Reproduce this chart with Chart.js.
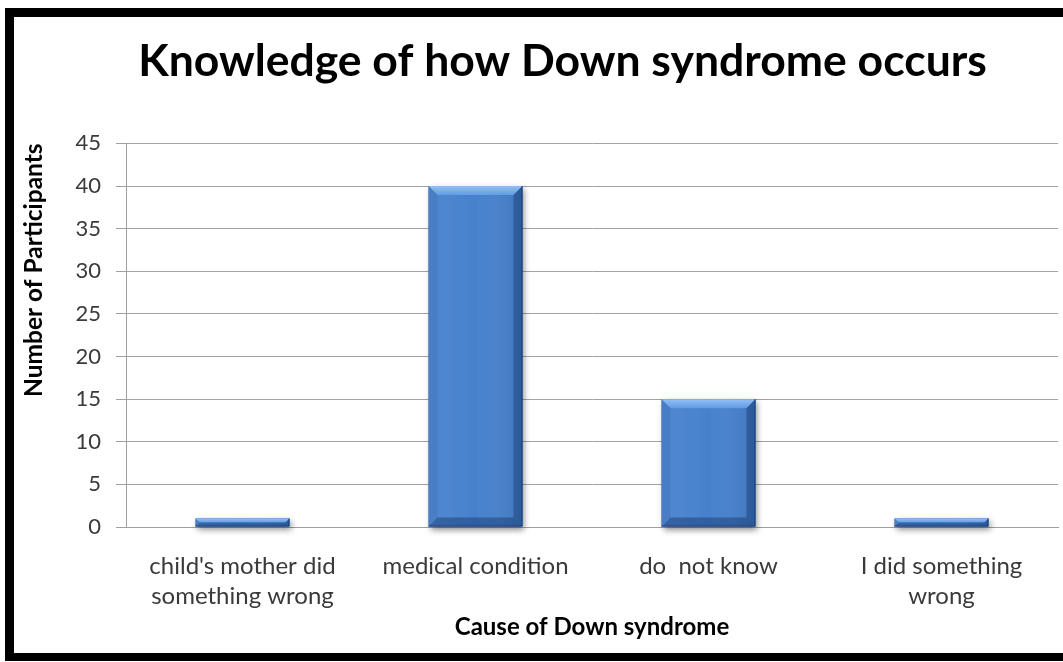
<!DOCTYPE html>
<html>
<head>
<meta charset="utf-8">
<script src="https://cdn.jsdelivr.net/npm/chart.js@4.4.0/dist/chart.umd.min.js"></script>
<style>
  html, body { margin: 0; padding: 0; background: #fff; overflow: hidden; }
  #wrap { position: relative; width: 1063px; height: 662px; overflow: hidden; }
  #chart { position: absolute; left: 0; top: 0; }
  #frame {
    position: absolute; left: 5px; top: 8px;
    width: 1120px; height: 636px;
    border: 9px solid #000; border-bottom-width: 8px;
    pointer-events: none;
  }
</style>
</head>
<body>
<div id="wrap">
  <canvas id="chart" width="1111" height="662"></canvas>
  <div id="frame"></div>
</div>
<script>
const categories = [
  ["child's mother did", "something wrong"],
  "medical condition",
  "do  not know",
  ["I did something", "wrong"]
];
const participants = [1, 40, 15, 1];
const yMin = 0;
const yMax = 45;
const yStep = 5;

const chartTitle = 'Knowledge of how Down syndrome occurs';
const xTitle = 'Cause of Down syndrome';
const yTitle = 'Number of Participants';

const FONT = 'Lato, "Open Sans", sans-serif';

// shaded, bevelled look for the bars (shadow underneath, bevels on top)
const bevelBars = {
  id: 'bevelBars',
  beforeDatasetsDraw(chart) {
    const ctx = chart.ctx;
    ctx.save();
    ctx.shadowColor = 'rgba(0,0,0,0.45)';
    ctx.shadowBlur = 6;
    ctx.shadowOffsetX = 2;
    ctx.shadowOffsetY = 3;
    ctx.fillStyle = '#3f74bb';
    chart.getDatasetMeta(0).data.forEach(bar => {
      const p = bar.getProps(['x', 'y', 'base', 'width'], true);
      const t = Math.min(p.y, p.base), b = Math.max(p.y, p.base);
      ctx.fillRect(p.x - p.width / 2, t, p.width, b - t);
    });
    ctx.restore();
  },
  afterDatasetsDraw(chart) {
    const ctx = chart.ctx;
    ctx.save();
    chart.getDatasetMeta(0).data.forEach(bar => {
      const p = bar.getProps(['x', 'y', 'base', 'width'], true);
      const l = p.x - p.width / 2, r = p.x + p.width / 2;
      const t = Math.min(p.y, p.base), b = Math.max(p.y, p.base);
      const bv = Math.min(9, (b - t) / 2);

      const side = ctx.createLinearGradient(l, 0, r, 0);
      side.addColorStop(0, 'rgba(255,255,255,0.06)');
      side.addColorStop(0.5, 'rgba(255,255,255,0)');
      side.addColorStop(1, 'rgba(0,20,60,0.12)');
      ctx.fillStyle = side;
      ctx.fillRect(l, t, r - l, b - t);

      const poly = (pts, fill) => {
        ctx.beginPath();
        ctx.moveTo(pts[0][0], pts[0][1]);
        for (let i = 1; i < pts.length; i++) ctx.lineTo(pts[i][0], pts[i][1]);
        ctx.closePath();
        ctx.fillStyle = fill;
        ctx.fill();
      };

      const top = ctx.createLinearGradient(0, t, 0, t + bv);
      top.addColorStop(0, '#92c0f5');
      top.addColorStop(1, '#629ce3');
      poly([[l, t], [r, t], [r - bv, t + bv], [l + bv, t + bv]], top);
      poly([[l, t], [l + bv, t + bv], [l + bv, b - bv], [l, b]], 'rgba(20,60,120,0.12)');
      poly([[r, t], [r, b], [r - bv, b - bv], [r - bv, t + bv]], 'rgba(10,40,90,0.35)');
      poly([[l, b], [l + bv, b - bv], [r - bv, b - bv], [r, b]], 'rgba(10,40,90,0.38)');

      ctx.strokeStyle = 'rgba(20,55,110,0.7)';
      ctx.lineWidth = 1;
      ctx.beginPath();
      ctx.moveTo(r - 0.5, t);
      ctx.lineTo(r - 0.5, b - 0.5);
      ctx.lineTo(l, b - 0.5);
      ctx.stroke();
    });
    ctx.restore();
  }
};

new Chart(document.getElementById('chart'), {
  type: 'bar',
  data: {
    labels: categories,
    datasets: [{
      label: yTitle,
      data: participants,
      backgroundColor: '#4781cd',
      borderWidth: 0,
      categoryPercentage: 1,
      barPercentage: 0.403
    }]
  },
  options: {
    responsive: false,
    animation: false,
    devicePixelRatio: 1,
    layout: { padding: { left: 14, top: 17, right: 0, bottom: 14 } },
    plugins: {
      legend: { display: false },
      tooltip: { enabled: false },
      title: {
        display: true,
        text: chartTitle,
        color: '#000',
        font: { family: FONT, size: 44.5, weight: 'bold', lineHeight: 1.2 },
        padding: { top: 18, bottom: 55 }
      }
    },
    scales: {
      x: {
        grid: { display: false },
        border: { display: true, color: '#9f9f9f', width: 1 },
        ticks: {
          color: '#3a3a3a',
          padding: 16,
          maxRotation: 0,
          autoSkip: false,
          font: { family: FONT, size: 24, lineHeight: 1.25 }
        },
        title: {
          display: true,
          text: xTitle,
          color: '#000',
          font: { family: FONT, size: 24, weight: 'bold', lineHeight: 1.2 },
          padding: { top: 0, bottom: 6 }
        },
        afterFit(scale) { scale.height = 121; }
      },
      y: {
        min: yMin,
        max: yMax,
        ticks: {
          stepSize: yStep,
          color: '#3a3a3a',
          padding: 15,
          font: { family: FONT, size: 22 }
        },
        grid: { color: '#a3a3a3', lineWidth: 1, tickLength: 10, tickColor: '#9f9f9f' },
        border: { display: true, color: '#9f9f9f', width: 1 },
        title: {
          display: true,
          text: yTitle,
          align: 'end',
          color: '#000',
          font: { family: FONT, size: 24.5, weight: 'bold', lineHeight: 1.2 },
          padding: { top: 5, bottom: 0 }
        },
        afterFit(scale) { scale.width = 112; }
      },
      // empty right-hand box so the plot area ends where the frame is cut
      yR: {
        type: 'linear',
        position: 'right',
        display: true,
        grid: { display: false },
        border: { display: false },
        ticks: { display: false },
        afterFit(scale) { scale.width = 53; }
      }
    }
  },
  plugins: [bevelBars]
});
</script>
</body>
</html>
